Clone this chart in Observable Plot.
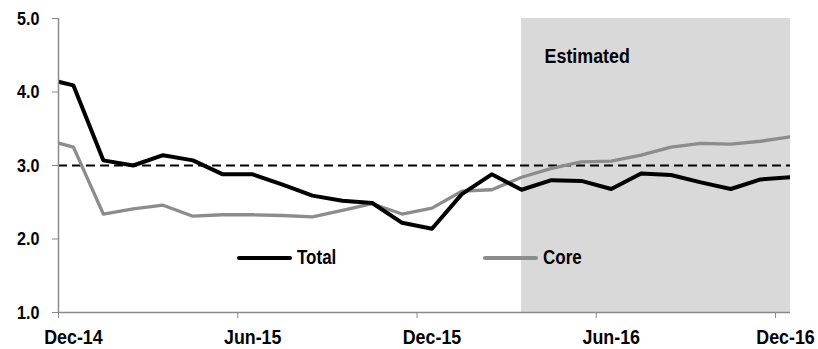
<!DOCTYPE html>
<html>
<head>
<meta charset="utf-8">
<script src="https://cdn.jsdelivr.net/npm/d3@7"></script>
<script src="https://cdn.jsdelivr.net/npm/@observablehq/plot@0.6"></script>
<style>
  html, body { margin: 0; padding: 0; background: #fff; }
  #wrap { position: relative; width: 818px; height: 349px; font-family: "Liberation Sans", Arial, sans-serif; }
  .leg { position: absolute; display: flex; align-items: center; font-weight: bold; font-size: 20px; color: #000; }
  .leg .sw { width: 55px; height: 4px; border-radius: 2px; margin-right: 5px; }
  .leg .lbl { display: inline-block; transform: scaleX(0.85); transform-origin: left center; }
</style>
</head>
<body>
<div id="wrap"></div>
<script>
// Months plotted (Nov-14 point lies just left of the axis and is clipped)
const months = ["Nov-14","Dec-14","Jan-15","Feb-15","Mar-15","Apr-15","May-15","Jun-15","Jul-15","Aug-15","Sep-15","Oct-15","Nov-15","Dec-15",
  "Jan-16","Feb-16","Mar-16","Apr-16","May-16","Jun-16","Jul-16","Aug-16","Sep-16","Oct-16","Nov-16","Dec-16"];
const total = [4.19,4.09,3.07,3.00,3.14,3.07,2.88,2.88,2.74,2.59,2.52,2.49,2.22,2.14,
  2.61,2.88,2.67,2.80,2.79,2.68,2.89,2.87,2.77,2.68,2.81,2.84];
const core = [3.36,3.25,2.34,2.41,2.46,2.31,2.33,2.33,2.32,2.30,2.39,2.48,2.34,2.42,
  2.65,2.67,2.84,2.96,3.05,3.06,3.14,3.25,3.30,3.29,3.33,3.39];
const tickLabels = ["Dec-14","Jun-15","Dec-15","Jun-16","Dec-16"];
const yTicks = [1,2,3,4,5];
const target = 3.0;
const estimatedFrom = "Mar-16";
const estimatedTo = "Dec-16";

const base = months.indexOf("Dec-14");
const center = m => months.indexOf(m) - base + 0.5;   // category centre
const boundary = m => months.indexOf(m) - base;       // category start (tick)

const rows = months.flatMap((m, i) => [
  {x: center(m), v: total[i], s: "Total"},
  {x: center(m), v: core[i], s: "Core"}
]);

const font = '"Liberation Sans", Arial, sans-serif';
const axisGrey = "#8a8a8a";

const chart = Plot.plot({
  width: 818,
  height: 349,
  marginLeft: 58,
  marginRight: 28,
  marginTop: 18,
  marginBottom: 37,
  style: {fontFamily: font, background: "#fff", overflow: "visible"},
  x: {domain: [0, center(estimatedTo)]},
  y: {domain: [1, 5]},
  marks: [
    Plot.rectY([{x1: center(estimatedFrom), x2: center(estimatedTo)}], {x1: "x1", x2: "x2", y1: 1, y2: 5, fill: "#d9d9d9"}),
    Plot.text(["Estimated"], {x: center(estimatedFrom), y: 5, dx: 23, dy: 30, text: d => d, textAnchor: "start", lineAnchor: "top", fontSize: 21, fontWeight: "bold", fill: "#000"}),
    Plot.ruleY([target], {stroke: "#000", strokeWidth: 2, strokeDasharray: "9,5"}),
    Plot.line(rows.filter(d => d.s === "Core"), {x: "x", y: "v", stroke: "#8c8c8c", strokeWidth: 3.3, clip: true}),
    Plot.line(rows.filter(d => d.s === "Total"), {x: "x", y: "v", stroke: "#000", strokeWidth: 4, clip: true}),
    Plot.ruleX([0], {stroke: axisGrey, strokeWidth: 1.5}),
    Plot.ruleY([1], {stroke: axisGrey, strokeWidth: 1.5}),
    Plot.axisY({ticks: yTicks, tickFormat: d3.format(".1f"), tickSize: 6, tickPadding: 13, stroke: axisGrey, fontSize: 19, fontWeight: "bold", fill: "#000", label: null}),
    Plot.axisX({ticks: tickLabels.map(boundary), tickFormat: () => "", tickSize: 6, stroke: axisGrey, label: null}),
    Plot.axisX({ticks: tickLabels.map(center), tickFormat: (d, i) => tickLabels[i], tickSize: 0, tickPadding: 17, fontSize: 21, fontWeight: "bold", fill: "#000", label: null})
  ]
});

// Condense the bold labels horizontally (the reference uses a narrow face)
chart.querySelectorAll("text").forEach(t => {
  const tr = t.getAttribute("transform");
  const shift = t.textContent === tickLabels[tickLabels.length - 1] ? -5 : 0;
  if (tr && !t.hasAttribute("x")) t.setAttribute("transform", tr + ` translate(${shift},0) scale(0.85,1)`);
  else {
    const x = +(t.getAttribute("x") || 0);
    t.setAttribute("transform", (tr ? tr + " " : "") + `translate(${x + shift},0) scale(0.85,1) translate(${-x},0)`);
  }
});

const wrap = document.getElementById("wrap");
wrap.appendChild(chart);

const legend = [
  {name: "Total", color: "#000", left: 237, top: 246},
  {name: "Core", color: "#8c8c8c", left: 483, top: 246}
];
for (const l of legend) {
  const el = document.createElement("div");
  el.className = "leg";
  el.style.left = l.left + "px";
  el.style.top = l.top + "px";
  el.innerHTML = `<span class="sw" style="background:${l.color}"></span><span class="lbl">${l.name}</span>`;
  wrap.appendChild(el);
}
</script>
</body>
</html>
